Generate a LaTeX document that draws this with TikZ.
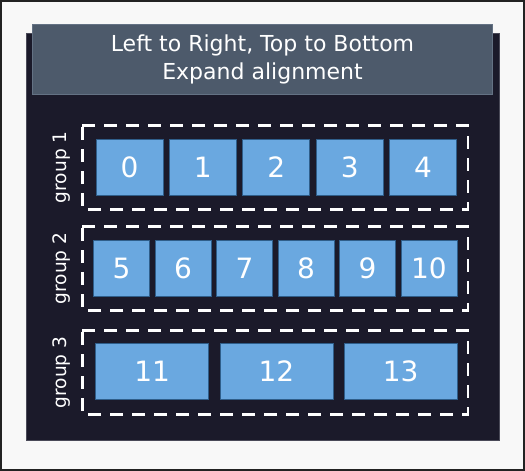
\documentclass[tikz,border=0pt]{standalone}
\usepackage{fontspec}
\setmainfont{DejaVu Sans}
\definecolor{pagebg}{HTML}{F8F8F8}
\definecolor{pageline}{HTML}{222222}
\definecolor{panel}{HTML}{1B1A2A}
\definecolor{panelline}{HTML}{4A4A58}
\definecolor{titlebg}{HTML}{4D5A6B}
\definecolor{titleline}{HTML}{647284}
\definecolor{itemfill}{HTML}{6AA8E0}
\definecolor{itemline}{HTML}{2F5E8A}
\tikzset{
  panelbox/.style={fill=panel, draw=panelline, line width=1pt},
  titlebox/.style={fill=titlebg, draw=titleline, line width=0.8pt, text=white,
    align=center, font=\fontsize{22}{27.4}\selectfont, inner sep=0pt},
  groupbox/.style={minimum width=385pt, minimum height=83.4pt, inner sep=0pt},
  groupdash/.style={draw=white, line width=2.6pt, dash pattern=on 13pt off 9pt},
  grouplabel/.style={text=white, rotate=90, font=\fontsize{18.6}{20}\selectfont, inner sep=0pt},
  item/.style={fill=itemfill, draw=itemline, line width=0.8pt, text=white,
    font=\fontsize{28}{30}\selectfont, minimum height=55.7pt, inner sep=0pt},
  itemA/.style={item, minimum width=67pt},
  itemB/.style={item, minimum width=56pt},
  itemC/.style={item, minimum width=113pt},
}
\begin{document}
\begin{tikzpicture}[x=1pt,y=-1pt]
\useasboundingbox (0,0) rectangle (525,471);
\fill[pagebg] (0,0) rectangle (525,471);
\draw[pageline, line width=2pt] (1,1) rectangle (524,470);
% dark panel
\node[panelbox, minimum width=473pt, minimum height=407pt, inner sep=0pt] (panel) at (262.5,236.5) {};
% title bar
\node[titlebox, minimum width=460.4pt, minimum height=70pt] (title) at (262.5,59.3)
  {\raisebox{0.9pt}{Left to Right, Top to Bottom}\\Expand alignment};
% groups
\node[groupbox] (g1) at (275.1,167.3) {};
\node[groupbox] (g2) at (275.1,268.4) {};
\node[groupbox] (g3) at (275.1,372.4) {};
\foreach \g in {g1,g2,g3} {
  \draw[groupdash] (\g.north west) -- (\g.north east) -- (\g.south east) -- (\g.south west) -- cycle;
}
\node[grouplabel] (l1) at (61.5,167.3) {group 1};
\node[grouplabel] (l2) at (61.5,268.4) {group 2};
\node[grouplabel] (l3) at (61.5,372.4) {group 3};
% group 1 items
\foreach \i [count=\k from 0] in {0,...,4} {
  \node[itemA] (a\i) at (129.5+73.4*\k,167.2) {\raisebox{-1.2pt}{\i}};
}
% group 2 items
\foreach \i [count=\k from 0] in {5,...,10} {
  \node[itemB] (b\i) at (121.5+61.5*\k,268.2) {\raisebox{-1.2pt}{\i}};
}
% group 3 items
\foreach \i [count=\k from 0] in {11,12,13} {
  \node[itemC, minimum height=56pt] (c\i) at (152.2+124.2*\k,371.3) {\raisebox{-1.2pt}{\i}};
}
\end{tikzpicture}
\end{document}
